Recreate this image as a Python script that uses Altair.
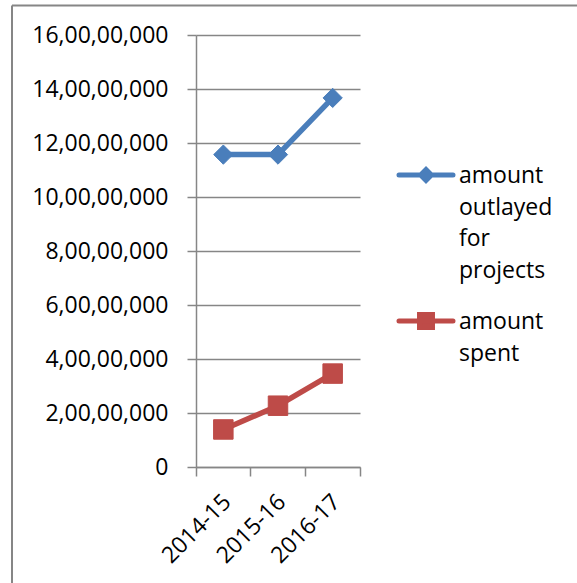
import altair as alt
import pandas as pd

# ---- data ----
years = ["2014-15", "2015-16", "2016-17"]
series_names = ["amount outlayed for projects", "amount spent"]
outlayed = [115700000, 115700000, 136700000]
spent = [13900000, 22700000, 34600000]
series_colors = ["#4A7EBB", "#BE4B48"]
marker_shapes = ["diamond", "square"]
marker_sizes = [370, 380]
y_ticks = [0, 20000000, 40000000, 60000000, 80000000,
           100000000, 120000000, 140000000, 160000000]

rows = []
for name, vals in zip(series_names, [outlayed, spent]):
    for yr, v in zip(years, vals):
        rows.append({"year": yr, "series": name, "amount": v})
df = pd.DataFrame(rows)
leg_df = pd.DataFrame({"series": series_names})
border_df = pd.DataFrame({"k": [0]})

GRAY = "#868686"
FONT = "Open Sans"
FS = 23

color_scale = alt.Scale(domain=series_names, range=series_colors)

x_enc = alt.X(
    "year:N", sort=years,
    scale=alt.Scale(type="band", paddingInner=0, paddingOuter=0),
    axis=alt.Axis(
        title=None, labelAngle=-45, labelAlign="right", labelBaseline="middle",
        labelPadding=22, labelOffset=4, bandPosition=1, tickExtra=True,
        tickSize=9, tickColor=GRAY, tickWidth=1.5, domainColor=GRAY,
        domainWidth=1.5, grid=False, labelFont=FONT, labelFontSize=FS,
        labelColor="black", labelOverlap=False, labelBound=False,
    ),
)
y_scale = alt.Scale(domain=[0, 160000000], nice=False, zero=True)
y_enc = alt.Y(
    "amount:Q", scale=y_scale,
    axis=alt.Axis(
        title=None, values=y_ticks,
        labelExpr="datum.value == 0 ? '0' : format(datum.value / 10000000, 'd') + ',00,00,000'",
        tickSize=9, labelPadding=19, grid=True, gridColor=GRAY, gridWidth=1.5,
        domainColor=GRAY, domainWidth=1.5, tickColor=GRAY, tickWidth=1.5,
        labelFont=FONT, labelFontSize=FS, labelColor="black",
    ),
)

base = alt.Chart(df)
lines = base.mark_line(strokeWidth=5.5, strokeJoin="round", strokeCap="round").encode(
    x=x_enc, y=y_enc,
    color=alt.Color("series:N", scale=color_scale, legend=None),
)
points = base.mark_point(filled=True, opacity=1, strokeWidth=1).encode(
    x=x_enc, y=y_enc,
    color=alt.Color("series:N", scale=color_scale, legend=None),
    stroke=alt.Stroke("series:N", scale=color_scale, legend=None),
    shape=alt.Shape("series:N", scale=alt.Scale(domain=series_names, range=marker_shapes), legend=None),
    size=alt.Size("series:N", scale=alt.Scale(domain=series_names, range=marker_sizes), legend=None),
)
main = alt.layer(lines, points)

# ---- legend built from the series list ----
legend_paths = [
    "M-1,0L1,0M0,-0.2L0.2,0L0,0.2L-0.2,0Z",
    "M-1,0L1,0M-0.24,-0.24L0.24,-0.24L0.24,0.24L-0.24,0.24Z",
]
leg_y = alt.Y("series:N", sort=series_names,
              scale=alt.Scale(type="point", domain=series_names, range=[140, 286], padding=0),
              axis=None)
leg_sym = alt.Chart(leg_df).mark_point(
    filled=True, opacity=1, size=2916, strokeWidth=5, strokeCap="round"
).encode(
    x=alt.value(230), y=leg_y,
    color=alt.Color("series:N", scale=color_scale, legend=None),
    stroke=alt.Stroke("series:N", scale=color_scale, legend=None),
    shape=alt.Shape("series:N", scale=alt.Scale(domain=series_names, range=legend_paths), legend=None),
)
leg_txt = alt.Chart(leg_df).mark_text(
    align="left", baseline="alphabetic", font=FONT, fontSize=FS,
    lineBreak=" ", lineHeight=31.7, dy=8, color="black",
).encode(x=alt.value(263), y=leg_y, text="series:N")
legend = alt.layer(leg_sym, leg_txt)

# ---- chart frame (cropped border, top and left) ----
top_border = alt.Chart(border_df).mark_rule(color=GRAY, strokeWidth=2).encode(
    x=alt.value(-184), x2=alt.value(381), y=alt.value(-29.5))
left_border = alt.Chart(border_df).mark_rule(color=GRAY, strokeWidth=2).encode(
    x=alt.value(-184), y=alt.value(-29.5), y2=alt.value(548))

chart = alt.layer(main, legend, top_border, left_border).resolve_scale(
    y="independent", shape="independent"
).properties(
    width=164, height=432,
    autosize=alt.AutoSizeParams(type="none"),
    padding={"left": 196, "top": 35, "right": 217, "bottom": 116},
).configure_view(stroke=None)

chart.save("out.html", embed_options={"renderer": "svg", "actions": False})
